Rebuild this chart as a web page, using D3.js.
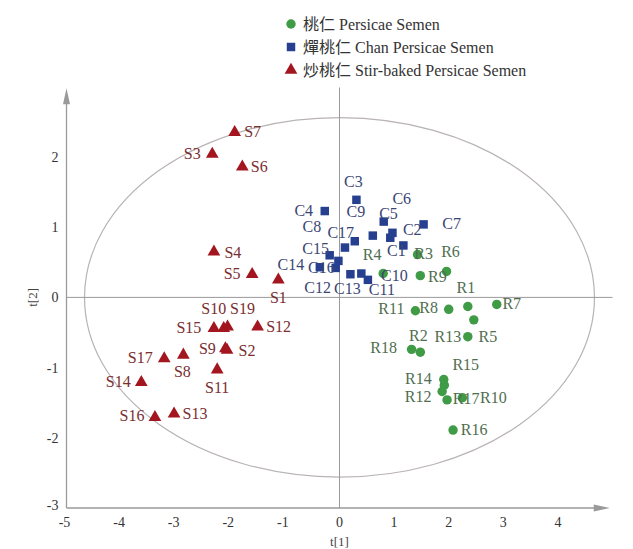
<!DOCTYPE html>
<html><head><meta charset="utf-8">
<script src="https://cdn.jsdelivr.net/npm/d3@7"></script>
<style>body{margin:0;background:#fff}svg{display:block}</style>
</head><body>
<script>
// ---- data ----
const xTicks = [-5,-4,-3,-2,-1,0,1,2,3,4];
const yTicks = [-3,-2,-1,0,1,2];
const legendLabels = ["桃仁 Persicae Semen","燀桃仁 Chan Persicae Semen","炒桃仁 Stir-baked Persicae Semen"];
const rNames = ["R1","R2","R3","R4","R5","R6","R7","R8","R9","R10","R11","R12","R13","R14","R15","R16","R17","R18"];
const rX = [2.35,1.48,1.43,0.80,2.46,1.96,2.88,2.00,1.48,2.25,1.39,1.88,2.35,1.92,1.91,2.08,1.97,1.32];
const rY = [-0.13,-0.78,0.61,0.34,-0.32,0.37,-0.10,-0.17,0.31,-1.43,-0.19,-1.34,-0.56,-1.25,-1.17,-1.89,-1.46,-0.74];
const cNames = ["C1","C2","C3","C4","C5","C6","C7","C8","C9","C10","C11","C12","C13","C14","C15","C16","C17"];
const cX = [1.17,0.93,0.31,-0.27,0.97,0.81,1.54,0.10,0.61,0.40,0.52,-0.07,0.20,-0.36,-0.18,-0.02,0.28];
const cY = [0.74,0.85,1.39,1.23,0.92,1.08,1.04,0.71,0.88,0.34,0.25,0.42,0.33,0.43,0.60,0.52,0.80];
const sNames = ["S1","S2","S3","S4","S5","S6","S7","S8","S9","S10","S11","S12","S13","S14","S15","S16","S17","S19"];
const sX = [-1.12,-2.06,-2.33,-2.30,-1.60,-1.78,-1.92,-2.86,-2.09,-2.12,-2.24,-1.50,-3.03,-3.63,-2.30,-3.38,-3.21,-2.05];
const sY = [0.25,-0.75,2.04,0.65,0.33,1.86,2.35,-0.82,-0.73,-0.44,-1.03,-0.42,-1.66,-1.21,-0.44,-1.71,-0.87,-0.42];
const ellipseRadii = [4.67, 2.56];

// label placement offsets (px)
const labelOffset = {
 C1:[-7,6],C2:[22,-8],C3:[-3,-18],C4:[-21,0],C5:[-4,-19],C6:[18,-23],C7:[28,0],C8:[-33,-21],C9:[-17,-24],
 C10:[33,2],C11:[14,10],C12:[-18,20],C13:[-3,15],C14:[-29,-2],C15:[-14,-6],C16:[-17,7],C17:[-14,-8],
 R1:[-2,-19],R2:[-2,-16],R3:[6,-1],R4:[-11,-19],R5:[14,17],R6:[4,-19],R7:[15,0],R8:[-20,-1],R9:[17,1],
 R10:[31,0],R11:[-24,-2],R12:[-24,6],R13:[-20,0],R14:[-26,-6],R15:[22,-15],R16:[21,0],R17:[19,-1],R18:[-28,-1],
 S1:[0,18],S2:[20,1],S3:[-20,0],S4:[19,1],S5:[-20,0],S6:[17,0],S7:[18,0],S8:[-1,17],S9:[-18,0],S10:[-10,-19],
 S11:[0,18],S12:[21,0],S13:[21,0],S14:[-23,0],S15:[-25,0],S16:[-23,-1],S17:[-24,0],S19:[15,-18]
};

const W = 633, H = 549;
const svg = d3.select("body").append("svg").attr("width", W).attr("height", H);
const x = d3.scaleLinear().domain([-5,5]).range([66.5,612.5]);
const y = d3.scaleLinear().domain([-3,3]).range([508,86.8]);
const serif = "'Liberation Serif','Times New Roman','Noto Sans CJK SC',serif";
const axisCol = "#9a9a9a";

// ellipse
svg.append("ellipse").attr("cx", x(0)).attr("cy", y(0))
  .attr("rx", x(ellipseRadii[0]) - x(0)).attr("ry", y(0) - y(ellipseRadii[1]))
  .attr("fill","none").attr("stroke","#b9b3b3").attr("stroke-width",1.2);

// reference lines
svg.append("line").attr("x1", x(0)).attr("x2", x(0))
  .attr("y1", y(2.99)).attr("y2", y(-3)).attr("stroke", axisCol).attr("stroke-width",1);
svg.append("line").attr("x1", x(-5)).attr("x2", x(5)).attr("y1", y(0)).attr("y2", y(0))
  .attr("stroke", axisCol).attr("stroke-width",1);

// axes
const xEnd = x(4.95), yTop = y(2.98);
svg.append("line").attr("x1", x(-5)).attr("x2", xEnd - 8).attr("y1", y(-3)).attr("y2", y(-3))
  .attr("stroke", axisCol).attr("stroke-width",1.3);
svg.append("path").attr("d", `M${xEnd},${y(-3)} L${xEnd-16},${y(-3)-3.5} L${xEnd-16},${y(-3)+3.5} Z`).attr("fill", axisCol);
svg.append("line").attr("x1", x(-5)).attr("x2", x(-5)).attr("y1", y(-3)).attr("y2", yTop + 8)
  .attr("stroke", axisCol).attr("stroke-width",1.3);
svg.append("path").attr("d", `M${x(-5)},${yTop} L${x(-5)-3.5},${yTop+16} L${x(-5)+3.5},${yTop+16} Z`).attr("fill", axisCol);

const tickCol = "#333";
svg.append("g").selectAll("text").data(xTicks).join("text")
  .attr("x", d => x(d) - (d < 0 ? 2 : 0)).attr("y", y(-3) + 19).attr("text-anchor","middle")
  .attr("font-family", serif).attr("font-size", 14).attr("fill", tickCol).text(d => d);
svg.append("g").selectAll("text").data(yTicks).join("text")
  .attr("x", x(-5) - 8).attr("y", d => y(d) + 5 - (d === -3 ? 3 : 0)).attr("text-anchor","end")
  .attr("font-family", serif).attr("font-size", 14).attr("fill", tickCol).text(d => d);
svg.append("text").attr("x", x(0)).attr("y", 546).attr("text-anchor","middle")
  .attr("font-family", serif).attr("font-size", 13).attr("fill", "#444").text("t[1]");
svg.append("text").attr("transform", `translate(37,${y(0)}) rotate(-90)`).attr("text-anchor","middle")
  .attr("font-family", serif).attr("font-size", 13).attr("fill", "#444").text("t[2]");

// groups
const groups = [
  {names: rNames, xs: rX, ys: rY, shape: d3.symbolCircle, size: 70, fill: "#3f9b45", text: "#4f6e50"},
  {names: cNames, xs: cX, ys: cY, shape: d3.symbolSquare, size: 72, fill: "#26408f", text: "#3b4674"},
  {names: sNames, xs: sX, ys: sY, shape: d3.symbolTriangle, size: 70, fill: "#a3161f", text: "#7a2e30"}
];

groups.forEach(g => {
  const pts = g.names.map((n,i) => ({name:n, x:g.xs[i], y:g.ys[i]}));
  svg.append("g").selectAll("path").data(pts).join("path")
    .attr("transform", d => `translate(${x(d.x)},${y(d.y)})`)
    .attr("d", d3.symbol().type(g.shape).size(g.size)).attr("fill", g.fill);
});
groups.forEach(g => {
  const pts = g.names.map((n,i) => ({name:n, x:g.xs[i], y:g.ys[i]}));
  svg.append("g").selectAll("text").data(pts).join("text")
    .attr("x", d => x(d.x) + (labelOffset[d.name]||[16,0])[0])
    .attr("y", d => y(d.y) + (labelOffset[d.name]||[16,0])[1] + 5)
    .attr("text-anchor","middle").attr("font-family", serif).attr("font-size", 16)
    .attr("fill", g.text).text(d => d.name);
});

// legend
const leg = svg.append("g");
legendLabels.forEach((t,i) => {
  const ly = 24 + i*23;
  leg.append("path").attr("transform", `translate(291,${ly})`)
    .attr("d", d3.symbol().type(groups[i].shape).size(groups[i].size)).attr("fill", groups[i].fill);
  leg.append("text").attr("x", 303).attr("y", ly + 6).attr("font-family", serif)
    .attr("font-size", 16).attr("fill", "#333").text(t);
});
</script>
</body></html>
